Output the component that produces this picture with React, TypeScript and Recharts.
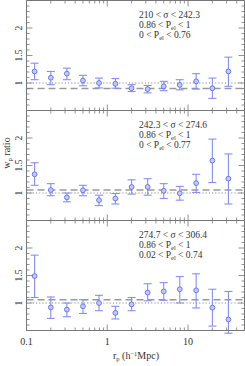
import React from "react";
import {
  ComposedChart,
  ErrorBar,
  ReferenceLine,
  Scatter,
  XAxis,
  YAxis,
} from "recharts";

// projected separation bins (h^-1 Mpc)
const RP = [0.126, 0.2, 0.316, 0.5, 0.79, 1.26, 2, 3.16, 5, 7.9, 12.6, 20, 31.6];

const RATIO_1 = [1.21, 1.095, 1.17, 1.045, 1.0, 0.985, 0.905, 0.89, 0.94, 0.965, 1.03, 0.905, 1.21];
const LO_1 = [1.06, 0.97, 1.06, 0.95, 0.91, 0.905, 0.845, 0.82, 0.86, 0.875, 0.89, 0.72, 0.94];
const HI_1 = [1.36, 1.21, 1.27, 1.14, 1.09, 1.08, 0.97, 0.955, 1.03, 1.06, 1.17, 1.09, 1.47];

const RATIO_2 = [1.34, 1.054, 0.92, 1.05, 0.87, 0.9, 1.11, 1.11, 1.04, 0.995, 1.18, 1.59, 1.26];
const LO_2 = [1.14, 0.95, 0.84, 0.95, 0.77, 0.8, 0.98, 0.96, 0.9, 0.87, 1.01, 1.19, 0.8];
const HI_2 = [1.55, 1.17, 1.0, 1.14, 0.96, 0.99, 1.24, 1.26, 1.17, 1.12, 1.34, 1.98, 1.71];

const RATIO_3 = [1.49, 0.92, 0.88, 0.94, 1.0, 0.82, 0.975, 1.19, 1.21, 1.25, 1.23, 0.915, 0.7];
const LO_3 = [1.1, 0.72, 0.75, 0.81, 0.86, 0.71, 0.86, 1.04, 1.05, 1.0, 0.91, 0.58, 0.45];
const HI_3 = [1.87, 1.11, 1.0, 1.06, 1.14, 0.94, 1.1, 1.35, 1.37, 1.48, 1.53, 1.25, 1.21];

const DASHED = [0.9, 1.055, 1.06];

const SIGMA_RANGES = [
  [210, 242.3],
  [242.3, 274.6],
  [274.7, 306.4],
];
const PEL_HIGH = [0.86, 1];
const PEL_LOW = [
  [0, 0.76],
  [0, 0.77],
  [0.02, 0.74],
];

const X_TICKS = [0.1, 0.2, 0.3, 0.4, 0.5, 0.6, 0.7, 0.8, 0.9, 1, 2, 3, 4, 5, 6, 7, 8, 9, 10, 20, 30, 40];
const X_MAJOR = [0.1, 1, 10];
const Y_TICKS = [
  0.5, 0.6, 0.7, 0.8, 0.9, 1, 1.1, 1.2, 1.3, 1.4, 1.5, 1.6, 1.7, 1.8, 1.9, 2, 2.1, 2.2, 2.3, 2.4, 2.5,
];
const Y_LABELS = [1, 1.5, 2];

const FRAME = "#777";
const TEXT = "#333";
const POINT = "#6b78ee";
const BAR = "#8390f3";
const FONT = "'Liberation Serif', serif";

const PANEL_H = 110;

const XTick = (props: any) => {
  const { x, y, payload, side, showLabel } = props;
  const v = payload.value;
  const major = X_MAJOR.includes(v);
  const len = major ? 6 : 3;
  const dir = side === "bottom" ? -1 : 1;
  return (
    <g>
      <line x1={x} y1={y} x2={x} y2={y + dir * len} stroke={FRAME} strokeWidth={0.8} />
      {showLabel && major && (
        <text x={x} y={y + 14} textAnchor="middle" fontSize={10} fontFamily={FONT} fill={TEXT}>
          {v}
        </text>
      )}
    </g>
  );
};

const YTick = (props: any) => {
  const { x, y, payload, side, showLabel } = props;
  const v = payload.value;
  const major = Math.abs(v * 2 - Math.round(v * 2)) < 1e-6;
  const len = major ? 6 : 3;
  const dir = side === "left" ? 1 : -1;
  const lx = x - 5;
  return (
    <g>
      <line x1={x} y1={y} x2={x + dir * len} y2={y} stroke={FRAME} strokeWidth={0.8} />
      {showLabel && Y_LABELS.some((l) => Math.abs(l - v) < 1e-6) && (
        <text
          x={lx}
          y={y}
          transform={`rotate(-90 ${lx} ${y})`}
          textAnchor="middle"
          fontSize={9.5}
          fontFamily={FONT}
          fill={TEXT}
        >
          {v}
        </text>
      )}
    </g>
  );
};

const Marker = (p: any) => (
  <circle cx={p.cx} cy={p.cy} r={2.4} fill="#c3c9fa" stroke={POINT} strokeWidth={1} />
);

function Panel({
  ratio,
  lo,
  hi,
  dashed,
  bottom,
}: {
  ratio: number[];
  lo: number[];
  hi: number[];
  dashed: number;
  bottom: boolean;
}) {
  const data = RP.map((x, i) => ({
    x,
    y: ratio[i],
    err: [ratio[i] - lo[i], hi[i] - ratio[i]],
  }));
  const bottomH = bottom ? 35.5 : 0.5;
  return (
    <ComposedChart
      width={245}
      height={0.5 + PANEL_H + bottomH}
      data={data}
      margin={{ top: 0, right: 0, bottom: 0, left: 0 }}
    >
      <XAxis
        xAxisId="b"
        dataKey="x"
        type="number"
        scale="log"
        domain={[0.1, 50]}
        allowDataOverflow
        ticks={X_TICKS}
        interval={0}
        orientation="bottom"
        height={bottomH}
        tickSize={0}
        tickMargin={0}
        stroke={FRAME}
        tick={(p: any) => <XTick {...p} side="bottom" showLabel={bottom} />}
      />
      <XAxis
        xAxisId="t"
        dataKey="x"
        type="number"
        scale="log"
        domain={[0.1, 50]}
        allowDataOverflow
        ticks={X_TICKS}
        interval={0}
        orientation="top"
        height={0.5}
        tickSize={0}
        tickMargin={0}
        stroke={FRAME}
        tick={(p: any) => <XTick {...p} side="top" showLabel={false} />}
      />
      <YAxis
        yAxisId="l"
        type="number"
        domain={[0.5, 2.5]}
        allowDataOverflow
        ticks={Y_TICKS}
        interval={0}
        orientation="left"
        width={26.5}
        tickSize={0}
        tickMargin={0}
        stroke={FRAME}
        tick={(p: any) => <YTick {...p} side="left" showLabel />}
      />
      <YAxis
        yAxisId="r"
        type="number"
        domain={[0.5, 2.5]}
        allowDataOverflow
        ticks={Y_TICKS}
        interval={0}
        orientation="right"
        width={0.5}
        tickSize={0}
        tickMargin={0}
        stroke={FRAME}
        tick={(p: any) => <YTick {...p} side="right" showLabel={false} />}
      />
      <ReferenceLine
        xAxisId="b"
        yAxisId="l"
        y={1}
        stroke="#777"
        strokeWidth={1}
        strokeDasharray="1 2.2"
      />
      <ReferenceLine
        xAxisId="b"
        yAxisId="l"
        y={dashed}
        stroke="#9a9a9a"
        strokeWidth={1.4}
        strokeDasharray="7 4"
      />
      <Scatter
        xAxisId="b"
        yAxisId="l"
        dataKey="y"
        isAnimationActive={false}
        shape={Marker}
      >
        <ErrorBar
          dataKey="err"
          direction="y"
          width={4}
          stroke={BAR}
          strokeWidth={1.1}
          isAnimationActive={false}
        />
      </Scatter>
    </ComposedChart>
  );
}

const Sub = ({ children }: { children: React.ReactNode }) => (
  <tspan fontSize={6.5} dy={2}>
    {children}
  </tspan>
);

export default function App() {
  const panels = [
    { ratio: RATIO_1, lo: LO_1, hi: HI_1 },
    { ratio: RATIO_2, lo: LO_2, hi: HI_2 },
    { ratio: RATIO_3, lo: LO_3, hi: HI_3 },
  ];
  return (
    <div
      style={{
        position: "absolute",
        left: 0,
        top: 0,
        width: 245,
        height: 366,
        background: "#fff",
        overflow: "hidden",
      }}
    >
      {panels.map((p, i) => (
        <div key={i} style={{ position: "absolute", left: 0, top: i * PANEL_H }}>
          <Panel {...p} dashed={DASHED[i]} bottom={i === 2} />
        </div>
      ))}
      <svg
        width={245}
        height={366}
        style={{ position: "absolute", left: 0, top: 0, pointerEvents: "none" }}
        fontFamily={FONT}
        fill={TEXT}
      >
        {panels.map((_, i) => {
          const top = i * PANEL_H;
          return (
            <g key={i} fontSize={9.5}>
              <text x={139} y={top + 17.5}>
                {SIGMA_RANGES[i][0]} &lt; σ &lt; {SIGMA_RANGES[i][1]}
              </text>
              <text x={139} y={top + 27.5}>
                {PEL_HIGH[0]} &lt; P<Sub>el</Sub>
                <tspan dy={-2}> &lt; {PEL_HIGH[1]}</tspan>
              </text>
              <text x={139} y={top + 37.5}>
                {PEL_LOW[i][0]} &lt; P<Sub>el</Sub>
                <tspan dy={-2}> &lt; {PEL_LOW[i][1]}</tspan>
              </text>
            </g>
          );
        })}
        <text x={136} y={359} textAnchor="middle" fontSize={10}>
          r<Sub>p</Sub>
          <tspan dy={-2}>  (h</tspan>
          <tspan fontSize={6.5} dy={-3.5}>−1</tspan>
          <tspan dy={3.5}>Mpc)</tspan>
        </text>
        <text
          x={10}
          y={153}
          transform="rotate(-90 10 153)"
          textAnchor="middle"
          fontSize={10}
        >
          w<Sub>p</Sub>
          <tspan dy={-2}> ratio</tspan>
        </text>
      </svg>
    </div>
  );
}
